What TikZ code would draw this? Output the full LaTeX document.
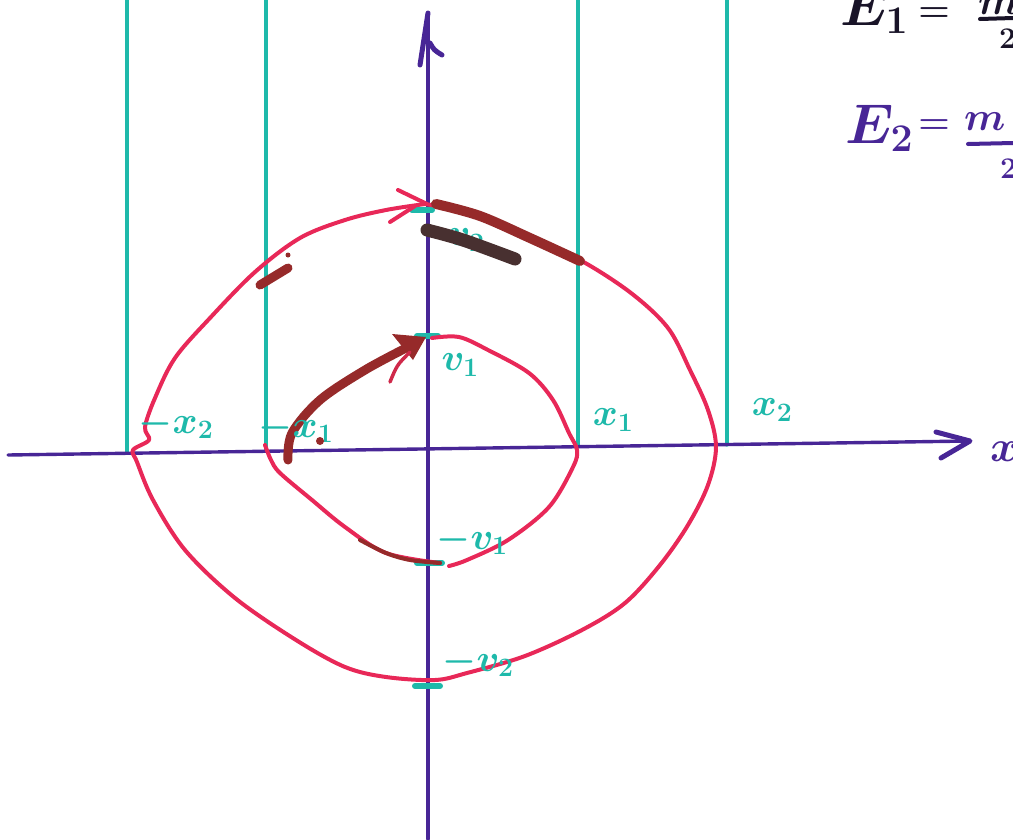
\documentclass[tikz,border=0pt]{standalone}
\usepackage{fix-cm}
\usepackage{amsmath}
\definecolor{axisc}{RGB}{72,38,150}
\definecolor{tealc}{RGB}{30,185,170}
\definecolor{pinkc}{RGB}{232,40,88}
\definecolor{darkred}{RGB}{150,42,42}
\definecolor{scrib}{RGB}{72,48,48}
\definecolor{eqblack}{RGB}{25,20,40}
\begin{document}
\begin{tikzpicture}[x=1pt,y=-1pt,line cap=round,line join=round,
  axisline/.style={draw=axisc,line width=3.4pt},
  arrowhand/.style={draw=axisc,line width=5pt},
  guide/.style={draw=tealc,line width=3.2pt},
  orbit/.style={draw=pinkc,line width=4pt},
  retrace/.style={draw=darkred,line width=9pt},
  scribble/.style={draw=scrib,line width=13pt},
  tickmark/.style={draw=tealc,line width=6pt},
  lbl/.style={text=tealc,font=\fontsize{38}{40}\selectfont\boldmath,inner sep=0pt},
  eqn/.style={font=\fontsize{56}{60}\selectfont\boldmath,inner sep=0pt},
  eqsign/.style={font=\fontsize{36}{40}\selectfont\boldmath,inner sep=0pt},
  frc/.style={font=\fontsize{40}{44}\selectfont\boldmath,inner sep=0pt},
  den/.style={font=\fontsize{30}{34}\selectfont\boldmath,inner sep=0pt},
  fbar/.style={line width=4pt}]
\useasboundingbox (0,0) rectangle (1013,839);
\clip (0,0) rectangle (1013,839);

% teal guide lines
\draw[guide] (127,0) -- (127,452);
\draw[guide] (266,0) -- (266,451);
\draw[guide] (578,0) -- (578,447);
\draw[guide] (727,0) -- (727,445);

% axes
\coordinate (xl) at (8,455);
\coordinate (xr) at (970,441);
\coordinate (yb) at (428,839);
\coordinate (yt) at (428,13);
\draw[axisline] (xl) -- (xr);
\draw[arrowhand] (936,432) -- (xr) -- (941,458);
\draw[axisline] (yb) -- (yt);
\draw[arrowhand] (420,65) -- (yt);
\draw[arrowhand] (430,43) .. controls (434,50) .. (442,55);
\node[text=axisc,font=\fontsize{44}{44}\selectfont\boldmath,inner sep=0pt,anchor=west] (xlab) at (990,452) {$x$};

% tick marks on the v axis
\draw[tickmark] (412,210) -- (432,210);
\draw[tickmark] (417,336) -- (438,336);
\draw[tickmark] (417,563) -- (442,563);
\draw[tickmark] (415,686) -- (440,686);

% outer orbit
\draw[orbit] plot[smooth,tension=0.55] coordinates {
 (425,204) (470,213) (520,232) (580,260) (631,293) (668,328)
 (690,370) (708,410) (716,447) (708,485) (688,525) (660,565)
 (625,603) (582,630) (525,656) (467,673) (435,680) (386,677) (345,667)
 (296,640) (235,598) (185,550) (153,500) (137,462) (133,450) (149,440)
 (145,427) (155,398) (175,358) (210,318) (255,272) (300,238) (345,220)
 (386,210) (425,204)};
% outer arrowhead
\draw[orbit] (398,190) -- (427,204);
\draw[orbit] (390,222) -- (415,206);

% inner orbit
\draw[orbit] plot[smooth,tension=0.55] coordinates {
 (432,338) (459,337) (488,350) (529,373) (553,400) (569,433) (577,450)
 (573,467) (549,507) (508,540) (467,560) (449,566)};
\draw[orbit] plot[smooth,tension=0.55] coordinates {
 (440,563) (386,553) (345,527) (312,500) (280,473) (271,460) (265,445)};
\draw[draw=darkred,line width=4pt] plot[smooth,tension=0.55] coordinates {
 (440,563) (410,560) (386,553) (360,540)};

% retraced thick strokes
\draw[retrace] plot[smooth,tension=0.55] coordinates {
 (288,460) (292,433) (320,400) (365,370) (408,347)};
\fill[darkred] (392,334) -- (426,337) -- (413,360) -- cycle;
\draw[draw=pinkc!70!darkred,line width=3.5pt] (390,382) .. controls (397,365) .. (410,352);

% teal label under the scribble
\node[lbl] (v2) at (466,240) {$v_2$};
\draw[retrace,line width=10pt] plot[smooth,tension=0.55] coordinates {
 (436,204) (480,216) (530,238) (580,261)};
\draw[scribble] plot[smooth,tension=0.55] coordinates {
 (427,230) (463,240) (515,259)};
\draw[retrace] (260,285) -- (288,268);
\fill[darkred] (288,255) circle (2.5pt);

% labels
\node[lbl] (mx2) at (176,424) {$-x_2$};
\node[lbl] (mx1) at (296,428) {$-x_1$};
\fill[darkred] (320,441) circle (4pt);
\node[lbl] (x1) at (613,420) {$x_1$};
\node[lbl] (x2) at (772,410) {$x_2$};
\node[lbl] (v1) at (460,365) {$v_1$};
\node[lbl] (mv1) at (472,540) {$-v_1$};
\node[lbl] (mv2) at (478,662) {$-v_2$};

% energies (cut off at the edge)
\node[eqn,text=eqblack,anchor=base west] (e1) at (840,25) {$E_1$};
\node[eqsign,text=eqblack] (eq1) at (934,15) {$=$};
\node[frc,text=eqblack,anchor=base west] (m1) at (978,14) {$m$};
\draw[fbar,eqblack] (980,19) -- (1013,18);
\node[den,text=eqblack,anchor=base west] (d1) at (999,48) {$2$};
\node[eqn,text=axisc,anchor=base west] (e2) at (845,143) {$E_2$};
\node[eqsign,text=axisc] (eq2) at (934,127) {$=$};
\node[frc,text=axisc,anchor=base west] (m2) at (964,130) {$m$};
\draw[fbar,axisc] (968,144) -- (1013,143);
\node[den,text=axisc,anchor=base west] (d2) at (1000,178) {$2$};
\end{tikzpicture}
\end{document}
